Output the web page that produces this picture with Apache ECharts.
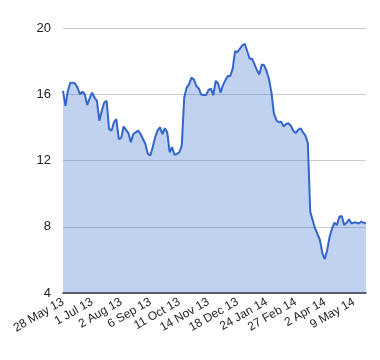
<!DOCTYPE html>
<html>
<head>
<meta charset="utf-8">
<script src="https://cdn.jsdelivr.net/npm/echarts@6/dist/echarts.min.js"></script>
<style>html,body{margin:0;padding:0;background:#fff}#c{width:380px;height:360px}</style>
</head>
<body>
<div id="c"></div>
<script>
const tickLabels = ["28 May 13","1 Jul 13","2 Aug 13","6 Sep 13","11 Oct 13","14 Nov 13","18 Dec 13","24 Jan 14","27 Feb 14","2 Apr 14","9 May 14"];
const labelEvery = 12;
const values = [
16.2,15.3,16.2,16.7,16.7,16.65,16.4,16.0,16.15,16.0,
15.35,15.75,16.1,15.8,15.6,14.4,15.0,15.5,15.6,13.9,
13.8,14.3,14.5,13.3,13.35,14.05,13.85,13.65,13.1,13.6,
13.7,13.8,13.6,13.3,13.0,12.4,12.3,12.8,13.4,13.8,
14.0,13.6,13.95,13.7,12.5,12.8,12.35,12.4,12.5,12.9,
15.8,16.4,16.6,17.0,16.9,16.5,16.35,15.98,15.95,15.95,
16.25,16.35,15.95,16.8,16.65,16.1,16.55,16.85,17.1,17.1,
17.55,18.6,18.55,18.75,18.95,19.05,18.6,18.15,18.15,17.8,
17.45,17.2,17.8,17.75,17.4,16.9,16.1,14.85,14.45,14.3,
14.35,14.05,14.2,14.25,14.1,13.8,13.65,13.85,13.95,13.7,
13.5,13.05,8.9,8.4,7.9,7.55,7.2,6.4,6.05,6.6,
7.4,7.9,8.25,8.1,8.6,8.65,8.1,8.25,8.45,8.2,
8.25,8.25,8.2,8.3,8.25,8.2
];
const yTicks = {min: 4, max: 20, step: 4};

const categories = values.map((v, i) => (i % labelEvery === 0 && tickLabels[i / labelEvery]) ? tickLabels[i / labelEvery] : '');

const chart = echarts.init(document.getElementById('c'), null, {renderer: 'canvas'});
chart.setOption({
  animation: false,
  grid: {left: 63, right: 14, top: 28, bottom: 67, containLabel: false},
  xAxis: {
    type: 'category',
    data: categories,
    boundaryGap: false,
    axisTick: {show: false},
    axisLine: {lineStyle: {color: '#333', width: 1.5}},
    axisLabel: {
      interval: labelEvery - 1,
      rotate: 30,
      margin: 8,
      color: '#222',
      fontFamily: 'Liberation Sans, Arial, sans-serif',
      fontSize: 12
    },
    splitLine: {show: false}
  },
  yAxis: {
    type: 'value',
    min: yTicks.min,
    max: yTicks.max,
    interval: yTicks.step,
    axisLine: {show: false},
    axisTick: {show: false},
    axisLabel: {
      margin: 12,
      color: '#222',
      fontFamily: 'Liberation Sans, Arial, sans-serif',
      fontSize: 13
    },
    splitLine: {lineStyle: {color: '#cccccc', width: 1}}
  },
  series: [{
    type: 'line',
    data: values,
    showSymbol: false,
    symbol: 'none',
    lineStyle: {color: '#3366cc', width: 2},
    itemStyle: {color: '#3366cc'},
    areaStyle: {color: '#3366cc', opacity: 0.3}
  }]
});
</script>
</body>
</html>
